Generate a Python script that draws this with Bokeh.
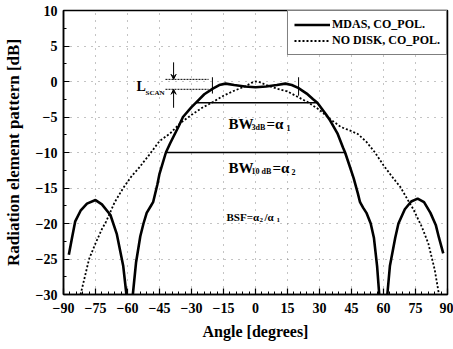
from bokeh.plotting import figure
from bokeh.models import (Range1d, FixedTicker, Label, Arrow, VeeHead, Legend, LegendItem)
from bokeh.embed import file_html
from bokeh.resources import INLINE

# ---- data ----
mdas_left_angle = [-87.5, -86, -84.5, -82, -79, -75, -72, -68, -65, -62, -60.5]
mdas_left_db = [-24.4, -22.0, -19.7, -18.2, -17.2, -16.7, -17.3, -18.8, -21.5, -26.0, -30.0]

mdas_main_angle = [-57.5, -56, -54, -52.5, -51, -49, -48, -46, -45, -42, -40, -36, -34, -30, -28,
                   -24, -20, -17, -14, -10, -5, 0, 5, 10, 14, 17, 20, 24, 27, 29, 31, 33, 35,
                   38.4, 41, 42, 44, 46, 48, 49, 50.5, 52, 54, 55.5, 57, 58]
mdas_main_db = [-30.0, -25.5, -21.8, -20.0, -18.5, -17.5, -17.0, -14.5, -13.0, -10.0, -8.7, -6.3,
                -5.0, -3.6, -3.0, -1.8, -1.0, -0.5, -0.3, -0.5, -0.7, -0.8, -0.7, -0.5, -0.3,
                -0.5, -0.9, -1.7, -2.5, -3.0, -3.8, -4.6, -5.5, -7.3, -9.3, -10.0, -11.8, -13.6,
                -15.8, -17.0, -17.8, -18.5, -20.0, -22.0, -26.0, -30.0]

mdas_right_angle = [61.8, 63, 65.5, 67, 70, 73, 76, 79, 82, 84.5, 86, 88]
mdas_right_db = [-30.0, -26.0, -22.0, -20.0, -18.0, -16.9, -16.5, -17.0, -18.5, -20.2, -22.0, -24.2]

nodisk_angle = [-82, -80, -78, -75, -72, -70, -66, -62, -58, -55, -50, -45, -40, -35, -30, -25,
                -20, -15, -10, -5, -2, 0, 2, 5, 10, 15, 20, 25, 30, 35, 40, 45, 48, 52, 56, 60,
                64, 68, 72, 74, 78, 81, 84, 86]
nodisk_db = [-30.0, -27.5, -25.0, -22.8, -20.8, -19.7, -17.0, -15.0, -13.3, -12.3, -10.4, -8.4,
             -7.3, -5.8, -4.7, -3.7, -2.9, -2.0, -1.3, -0.7, -0.2, 0.0, -0.1, -0.5, -1.0, -1.4,
             -2.2, -3.0, -4.0, -5.3, -6.4, -7.0, -7.4, -8.5, -10.0, -11.8, -13.4, -14.9, -17.0,
             -18.0, -20.5, -22.8, -26.5, -30.0]

x_ticks = [-90, -75, -60, -45, -30, -15, 0, 15, 30, 45, 60, 75, 90]
y_ticks = [-30, -25, -20, -15, -10, -5, 0, 5, 10]

bw3_span = [-28, 29]      # BW 3dB line
bw3_level = -3.0
bw10_span = [-42, 42]     # BW 10dB line
bw10_level = -10.0
lscan_levels = [0.3, -1.1]
lscan_span = [-42.2, -22.0]
lscan_arrow_x = -38.4
marker_x = [-20.2, 20.2]

series_names = ["MDAS, CO_POL.", "NO DISK, CO_POL."]

FONT = "Liberation Serif"

p = figure(width=453, height=349, output_backend="svg", toolbar_location=None,
           x_range=Range1d(-90, 90), y_range=Range1d(-30, 10),
           min_border_left=63, min_border_right=6, min_border_top=10, min_border_bottom=55)
p.background_fill_color = "white"
p.border_fill_color = "white"
p.outline_line_color = "black"
p.outline_line_width = 1.5

# axes
p.xaxis.ticker = FixedTicker(ticks=x_ticks, minor_ticks=list(range(-90, 91, 3)))
p.yaxis.ticker = FixedTicker(ticks=y_ticks, minor_ticks=[v / 2 for v in range(-60, 21, 5)])
for ax in (p.xaxis[0], p.yaxis[0]):
    ax.major_tick_in = 6
    ax.major_tick_out = 0
    ax.minor_tick_in = 3
    ax.minor_tick_out = 0
    ax.axis_line_width = 1.5
    ax.major_tick_line_width = 1.2
    ax.minor_tick_line_width = 1
    ax.major_label_text_font = FONT
    ax.major_label_text_font_style = "bold"
    ax.major_label_text_font_size = "14px"
    ax.major_label_text_color = "black"
    ax.axis_label_text_font = FONT
    ax.axis_label_text_font_style = "bold"
    ax.axis_label_text_color = "black"
p.xaxis.axis_label = "Angle [degrees]"
p.yaxis.axis_label = "Radiation element pattern [dB]"
p.xaxis.axis_label_text_font_size = "16px"
p.yaxis.axis_label_text_font_size = "17px"
p.xaxis.major_label_standoff = 8
p.xaxis.axis_label_standoff = 7
p.yaxis.major_label_standoff = 6
p.yaxis.axis_label_standoff = 10

p.xgrid.grid_line_color = "#888888"
p.ygrid.grid_line_color = "#888888"
p.xgrid.grid_line_dash = "1 6"
p.ygrid.grid_line_dash = "1 6"
p.xgrid.grid_line_width = 1
p.ygrid.grid_line_width = 1

# curves
r1 = p.line(mdas_left_angle, mdas_left_db, line_color="black", line_width=2.6)
p.line(mdas_main_angle, mdas_main_db, line_color="black", line_width=2.6)
p.line(mdas_right_angle, mdas_right_db, line_color="black", line_width=2.6)
r2 = p.line(nodisk_angle, nodisk_db, line_color="black", line_width=1.8, line_dash="2 2")

# BW lines
p.line(bw3_span, [bw3_level, bw3_level], line_color="black", line_width=1.6)
p.line(bw10_span, [bw10_level, bw10_level], line_color="black", line_width=1.6)

# L_SCAN annotation
for lv in lscan_levels:
    p.line(lscan_span, [lv, lv], line_color="black", line_width=1, line_dash="2 1")
p.add_layout(Arrow(end=VeeHead(size=5, line_color="black", line_width=1),
                   x_start=lscan_arrow_x, y_start=2.7, x_end=lscan_arrow_x, y_end=lscan_levels[0],
                   line_color="black", line_width=1))
p.add_layout(Arrow(end=VeeHead(size=5, line_color="black", line_width=1),
                   x_start=lscan_arrow_x, y_start=-3.7, x_end=lscan_arrow_x, y_end=lscan_levels[1],
                   line_color="black", line_width=1))
p.line([marker_x[0], marker_x[0]], [0.6, -1.7], line_color="black", line_width=1)
p.line([marker_x[1], marker_x[1]], [0.6, -2.0], line_color="black", line_width=1)


def X(px):
    return -90 + (px - 63) * 180.0 / 384.0


def Y(py):
    return 10 - (py - 10) * 40.0 / 284.0


def lab(px, py, text, size):
    p.add_layout(Label(x=X(px), y=Y(py), text=text, text_font=FONT, text_font_style="bold",
                       text_font_size=f"{size}px", text_color="black",
                       text_baseline="alphabetic", text_align="left"))


# L_SCAN text
lab(136, 86, "L", 14)
lab(145, 92, "SCAN", 7)
# BW 3dB = alpha1
lab(228, 123, "BW", 15)
lab(251, 127, "3dB", 8)
lab(266, 123, "=\u03b1", 15)
lab(286, 127, "1", 8)
# BW 10dB = alpha2
lab(228, 167, "BW", 15)
lab(251, 171, "10 dB", 8)
lab(272, 167, "=\u03b1", 15)
lab(291, 171, "2", 8)
# BSF
lab(226, 216, "BSF=\u03b1", 11)
lab(259, 219, "2", 7)
lab(264, 216, "/\u03b1", 11)
lab(276, 219, "1", 7)

legend = Legend(items=[LegendItem(label=series_names[0], renderers=[r1]),
                       LegendItem(label=series_names[1], renderers=[r2])],
                location="top_right", margin=0, padding=6, spacing=1,
                glyph_width=36, glyph_height=15, label_standoff=2,
                border_line_color="black", border_line_width=1.5,
                background_fill_color="white", background_fill_alpha=1,
                label_text_font=FONT, label_text_font_style="bold",
                label_text_font_size="12px", label_text_color="black")
p.add_layout(legend)

open("out.html", "w").write(file_html(p, INLINE))
